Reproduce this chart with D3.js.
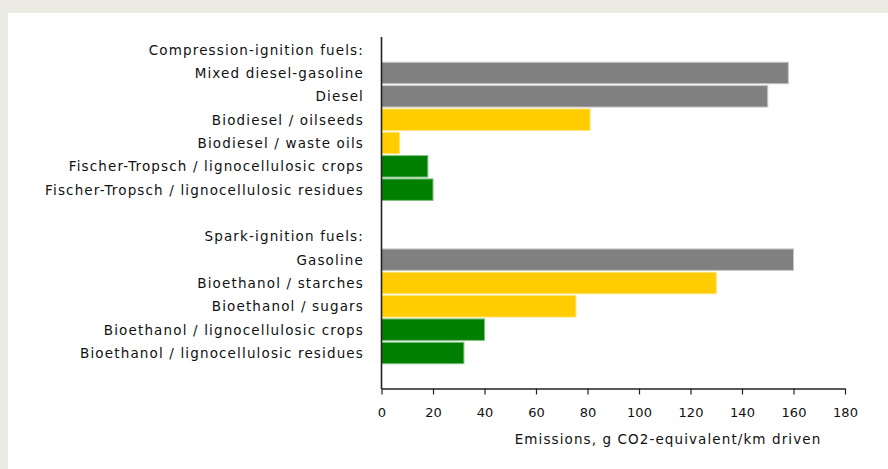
<!DOCTYPE html>
<html>
<head>
<meta charset="utf-8">
<script src="https://cdn.jsdelivr.net/npm/d3@7"></script>
<style>
  html, body { margin: 0; padding: 0; background: #ebebe3; }
  svg { display: block; }
</style>
</head>
<body>
<svg id="chart" width="888" height="469"></svg>
<script>
// Rows (top to bottom); headers and blank spacer rows have no value
const rowLabels = [
  "Compression-ignition fuels:",
  "Mixed diesel-gasoline",
  "Diesel",
  "Biodiesel / oilseeds",
  "Biodiesel / waste oils",
  "Fischer-Tropsch / lignocellulosic crops",
  "Fischer-Tropsch / lignocellulosic residues",
  "",
  "Spark-ignition fuels:",
  "Gasoline",
  "Bioethanol / starches",
  "Bioethanol / sugars",
  "Bioethanol / lignocellulosic crops",
  "Bioethanol / lignocellulosic residues",
  " "
];
const rowValues = [null, 158, 150, 81, 7, 18, 20, null, null, 160, 130, 75.5, 40, 32, null];
const rowTypes  = [null, "fossil", "fossil", "first", "first", "second", "second", null, null, "fossil", "first", "first", "second", "second", null];
const xTicks = [0, 20, 40, 60, 80, 100, 120, 140, 160, 180];
const xTitle = "Emissions, g  CO2-equivalent/km driven";

const colors = { fossil: "#808080", first: "#ffcc00", second: "#008000" };
const edges  = { fossil: "#c8c8c8", first: "#ffe37a", second: "#7fbf7f" };

const svg = d3.select("#chart");
// white panel
svg.append("rect").attr("x", 8).attr("y", 13).attr("width", 880).attr("height", 456).attr("fill", "#fff");

const x = d3.scaleLinear().domain([0, 180]).range([381.5, 845]);
const y = d3.scaleBand().domain(d3.range(rowLabels.length)).range([38, 388]).paddingInner(0.08).paddingOuter(0.04);

const font = "'DejaVu Sans', sans-serif";

// bars
const rows = rowLabels.map((l, i) => ({ i, label: l, v: rowValues[i], t: rowTypes[i] }));
svg.append("g").selectAll("rect").data(rows.filter(d => d.v != null)).join("rect")
  .attr("x", x(0))
  .attr("y", d => y(d.i))
  .attr("width", d => x(d.v) - x(0))
  .attr("height", y.bandwidth())
  .attr("fill", d => colors[d.t])
  .attr("stroke", d => edges[d.t])
  .attr("stroke-width", 1);

// row labels
svg.append("g").selectAll("text").data(rows).join("text")
  .attr("x", 364)
  .attr("y", d => y(d.i) + y.bandwidth() / 2)
  .attr("dy", "0.36em")
  .attr("text-anchor", "end")
  .attr("font-family", font)
  .attr("font-size", 13.5)
  .attr("letter-spacing", 1.15)
  .attr("fill", "#111")
  .text(d => d.label);

// vertical axis line
svg.append("line").attr("x1", 381.5).attr("x2", 381.5).attr("y1", 37).attr("y2", 389)
  .attr("stroke", "#222").attr("stroke-width", 1.6);

// x axis
const gx = svg.append("g").attr("transform", "translate(0,388.5)")
  .call(d3.axisBottom(x).tickValues(xTicks).tickSize(6).tickSizeOuter(0).tickPadding(13));
gx.select(".domain").attr("stroke", "#222").attr("stroke-width", 1.4);
gx.selectAll(".tick line").attr("stroke", "#222").attr("stroke-width", 1.2);
gx.selectAll(".tick text").attr("font-family", font).attr("font-size", 13).attr("fill", "#111");

svg.append("text")
  .attr("x", 668).attr("y", 439).attr("dy", "0.35em")
  .attr("text-anchor", "middle")
  .attr("font-family", font).attr("font-size", 13.5).attr("letter-spacing", 1.1).attr("fill", "#111")
  .text(xTitle);
</script>
</body>
</html>
